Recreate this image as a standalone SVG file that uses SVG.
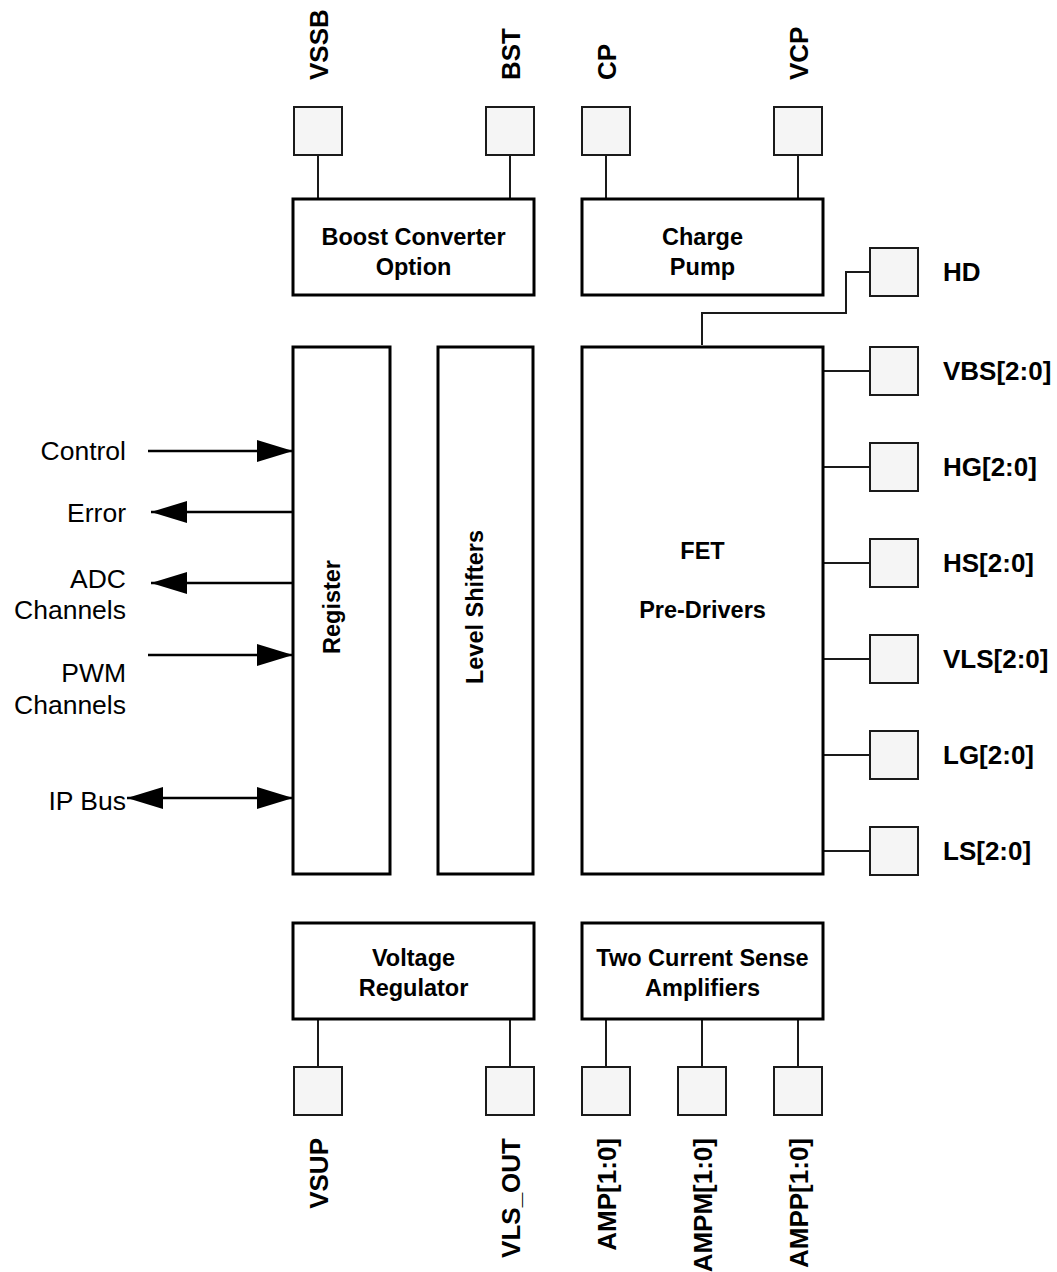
<svg xmlns="http://www.w3.org/2000/svg" width="1057" height="1272" viewBox="0 0 1057 1272">
<style>
.blk{fill:#fff;stroke:#000;stroke-width:3}
.pin{fill:#f5f5f5;stroke:#1a1a1a;stroke-width:2}
.wire{fill:none;stroke:#1a1a1a;stroke-width:2}
.sig{fill:none;stroke:#000;stroke-width:2.5}
.bt{font-family:"Liberation Sans",Arial,sans-serif;font-weight:bold;font-size:23.5px;text-anchor:middle;fill:#000}
.pl{font-family:"Liberation Sans",Arial,sans-serif;font-weight:bold;font-size:26px;fill:#000}
.ll{font-family:"Liberation Sans",Arial,sans-serif;font-size:26.5px;text-anchor:end;fill:#000}
</style>
<defs>
<marker id="ah" markerUnits="userSpaceOnUse" markerWidth="36" markerHeight="22" refX="36" refY="11" orient="auto-start-reverse">
<path d="M0,0 L36,11 L0,22 z" fill="#000"/>
</marker>
</defs>
<rect width="1057" height="1272" fill="#fff"/>

<g id="connectors">
<line class="wire" x1="318" y1="155" x2="318" y2="203"/>
<line class="wire" x1="510" y1="155" x2="510" y2="203"/>
<line class="wire" x1="606" y1="155" x2="606" y2="203"/>
<line class="wire" x1="798" y1="155" x2="798" y2="203"/>
<polyline class="wire" points="702,345 702,313 846,313 846,272 870,272"/>
<line class="wire" x1="823" y1="371" x2="870" y2="371"/>
<line class="wire" x1="823" y1="467" x2="870" y2="467"/>
<line class="wire" x1="823" y1="563" x2="870" y2="563"/>
<line class="wire" x1="823" y1="659" x2="870" y2="659"/>
<line class="wire" x1="823" y1="755" x2="870" y2="755"/>
<line class="wire" x1="823" y1="851" x2="870" y2="851"/>
<line class="wire" x1="318" y1="1019" x2="318" y2="1067"/>
<line class="wire" x1="510" y1="1019" x2="510" y2="1067"/>
<line class="wire" x1="606" y1="1019" x2="606" y2="1067"/>
<line class="wire" x1="702" y1="1019" x2="702" y2="1067"/>
<line class="wire" x1="798" y1="1019" x2="798" y2="1067"/>
<line class="sig" x1="148" y1="451" x2="293" y2="451" marker-end="url(#ah)"/>
<line class="sig" x1="293" y1="512" x2="151" y2="512" marker-end="url(#ah)"/>
<line class="sig" x1="293" y1="583" x2="151" y2="583" marker-end="url(#ah)"/>
<line class="sig" x1="148" y1="655" x2="293" y2="655" marker-end="url(#ah)"/>
<line class="sig" x1="127" y1="798" x2="293" y2="798" marker-start="url(#ah)" marker-end="url(#ah)"/>
</g>

<g id="boost">
<rect class="blk" x="293" y="199" width="241" height="96"/>
<text class="bt" x="413.5" y="245">Boost Converter</text>
<text class="bt" x="413.5" y="275">Option</text>
</g>
<g id="chargepump">
<rect class="blk" x="582" y="199" width="241" height="96"/>
<text class="bt" x="702.5" y="245">Charge</text>
<text class="bt" x="702.5" y="275">Pump</text>
</g>
<g id="register">
<rect class="blk" x="293" y="347" width="97" height="527"/>
<text class="bt" transform="translate(340,607) rotate(-90)">Register</text>
</g>
<g id="levelshifters">
<rect class="blk" x="438" y="347" width="95" height="527"/>
<text class="bt" transform="translate(483,607) rotate(-90)">Level Shifters</text>
</g>
<g id="fet">
<rect class="blk" x="582" y="347" width="241" height="527"/>
<text class="bt" x="702.5" y="559">FET</text>
<text class="bt" x="702.5" y="618">Pre-Drivers</text>
</g>
<g id="vreg">
<rect class="blk" x="293" y="923" width="241" height="96"/>
<text class="bt" x="413.5" y="966">Voltage</text>
<text class="bt" x="413.5" y="996">Regulator</text>
</g>
<g id="csa">
<rect class="blk" x="582" y="923" width="241" height="96"/>
<text class="bt" x="702.5" y="966">Two Current Sense</text>
<text class="bt" x="702.5" y="996">Amplifiers</text>
</g>

<g id="pin-vssb"><rect class="pin" x="294" y="107" width="48" height="48"/><text class="pl" transform="translate(328,80) rotate(-90)">VSSB</text></g>
<g id="pin-bst"><rect class="pin" x="486" y="107" width="48" height="48"/><text class="pl" transform="translate(520,80) rotate(-90)">BST</text></g>
<g id="pin-cp"><rect class="pin" x="582" y="107" width="48" height="48"/><text class="pl" transform="translate(616,80) rotate(-90)">CP</text></g>
<g id="pin-vcp"><rect class="pin" x="774" y="107" width="48" height="48"/><text class="pl" transform="translate(808,80) rotate(-90)">VCP</text></g>

<g id="pin-hd"><rect class="pin" x="870" y="248" width="48" height="48"/><text class="pl" x="943" y="281">HD</text></g>
<g id="pin-vbs"><rect class="pin" x="870" y="347" width="48" height="48"/><text class="pl" x="943" y="380">VBS[2:0]</text></g>
<g id="pin-hg"><rect class="pin" x="870" y="443" width="48" height="48"/><text class="pl" x="943" y="476">HG[2:0]</text></g>
<g id="pin-hs"><rect class="pin" x="870" y="539" width="48" height="48"/><text class="pl" x="943" y="572">HS[2:0]</text></g>
<g id="pin-vls"><rect class="pin" x="870" y="635" width="48" height="48"/><text class="pl" x="943" y="668">VLS[2:0]</text></g>
<g id="pin-lg"><rect class="pin" x="870" y="731" width="48" height="48"/><text class="pl" x="943" y="764">LG[2:0]</text></g>
<g id="pin-ls"><rect class="pin" x="870" y="827" width="48" height="48"/><text class="pl" x="943" y="860">LS[2:0]</text></g>

<g id="pin-vsup"><rect class="pin" x="294" y="1067" width="48" height="48"/><text class="pl" text-anchor="end" transform="translate(328,1138) rotate(-90)">VSUP</text></g>
<g id="pin-vlsout"><rect class="pin" x="486" y="1067" width="48" height="48"/><text class="pl" text-anchor="end" transform="translate(520,1138) rotate(-90)">VLS_OUT</text></g>
<g id="pin-amp"><rect class="pin" x="582" y="1067" width="48" height="48"/><text class="pl" text-anchor="end" transform="translate(616,1138) rotate(-90)">AMP[1:0]</text></g>
<g id="pin-ampm"><rect class="pin" x="678" y="1067" width="48" height="48"/><text class="pl" text-anchor="end" transform="translate(712,1138) rotate(-90)">AMPM[1:0]</text></g>
<g id="pin-ampp"><rect class="pin" x="774" y="1067" width="48" height="48"/><text class="pl" text-anchor="end" transform="translate(808,1138) rotate(-90)">AMPP[1:0]</text></g>

<g id="labels-left">
<text class="ll" x="126" y="460">Control</text>
<text class="ll" x="126" y="522">Error</text>
<text class="ll" x="126" y="588">ADC</text>
<text class="ll" x="126" y="619">Channels</text>
<text class="ll" x="126" y="682">PWM</text>
<text class="ll" x="126" y="714">Channels</text>
<text class="ll" x="126" y="810">IP Bus</text>
</g>
</svg>
